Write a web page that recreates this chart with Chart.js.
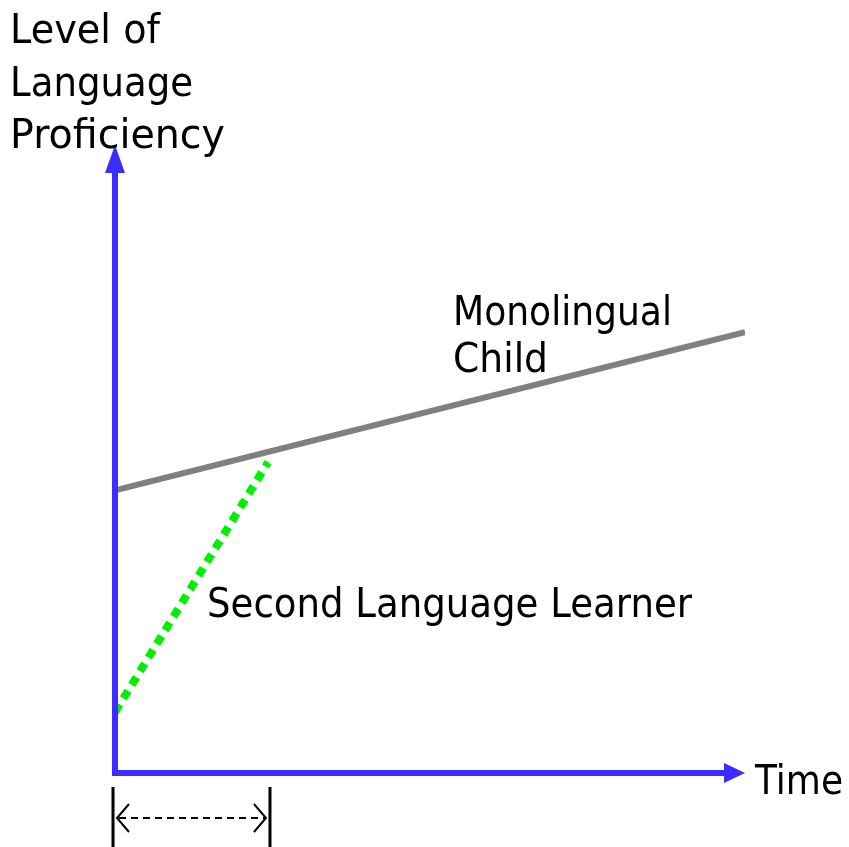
<!DOCTYPE html>
<html>
<head>
<meta charset="utf-8">
<script src="https://cdn.jsdelivr.net/npm/chart.js@4/dist/chart.umd.min.js"></script>
<style>
html,body{margin:0;padding:0;background:#fff;}
#wrap{width:849px;height:847px;position:relative;}
</style>
</head>
<body>
<div id="wrap"><canvas id="c"></canvas></div>
<script>
// Data (abstract units: time 0..100, proficiency 0..100)
const monolingualX = [0, 100];
const monolingualY = [45, 70.2];
const learnerX = [0, 24.3];
const learnerY = [9.7, 49.5];
const periodX = [0, 24.6]; // bracketed time span under the x-axis
const yAxisTitle = ["Level of", "Language", "Proficiency"];
const xAxisTitle = "Time";
const monolingualLabel = ["Monolingual", "Child"];
const learnerLabel = "Second Language Learner";

const FONT = '"DejaVu Sans", "Open Sans", sans-serif';
const BLUE = '#3b2cff';

const toPts = (xs, ys) => xs.map((x, i) => ({x, y: ys[i]}));

const decor = {
  id: 'decor',
  afterDatasetsDraw(chart) {
    const ctx = chart.ctx;
    const xs = chart.scales.x, ys = chart.scales.y;
    const ox = xs.getPixelForValue(0), oy = ys.getPixelForValue(0);
    const xt = xs.getPixelForValue(100), yt = ys.getPixelForValue(100);
    ctx.save();
    // axes
    ctx.strokeStyle = BLUE; ctx.fillStyle = BLUE; ctx.lineWidth = 6; ctx.lineCap = 'butt';
    ctx.beginPath();
    ctx.moveTo(ox, yt + 24); ctx.lineTo(ox, oy + 3);
    ctx.moveTo(ox - 3, oy); ctx.lineTo(xt - 18, oy);
    ctx.stroke();
    ctx.beginPath();
    ctx.moveTo(ox, yt); ctx.lineTo(ox - 10, yt + 28); ctx.lineTo(ox + 10, yt + 28); ctx.closePath(); ctx.fill();
    ctx.beginPath();
    ctx.moveTo(xt, oy); ctx.lineTo(xt - 21, oy - 10); ctx.lineTo(xt - 21, oy + 10); ctx.closePath(); ctx.fill();

    // bracket below x axis
    const bx0 = xs.getPixelForValue(periodX[0]) - 2, bx1 = xs.getPixelForValue(periodX[1]);
    ctx.strokeStyle = '#000'; ctx.lineWidth = 3;
    ctx.beginPath();
    ctx.moveTo(bx0, oy + 14); ctx.lineTo(bx0, 847);
    ctx.moveTo(bx1, oy + 14); ctx.lineTo(bx1, 847);
    ctx.stroke();
    const ay = oy + 45;
    ctx.lineWidth = 2;
    ctx.setLineDash([7, 5]);
    ctx.beginPath(); ctx.moveTo(bx0 + 6, ay); ctx.lineTo(bx1 - 4, ay); ctx.stroke();
    ctx.setLineDash([]);
    ctx.beginPath();
    ctx.moveTo(bx0 + 16, ay - 14); ctx.lineTo(bx0 + 4, ay); ctx.lineTo(bx0 + 16, ay + 14);
    ctx.moveTo(bx1 - 16, ay - 14); ctx.lineTo(bx1 - 4, ay); ctx.lineTo(bx1 - 16, ay + 14);
    ctx.stroke();

    // texts
    ctx.fillStyle = '#000'; ctx.textBaseline = 'alphabetic'; ctx.textAlign = 'left';
    ctx.font = '40px ' + FONT;
    const tb = [43, 96, 148];
    const tw = [150, 183, 215];
    yAxisTitle.forEach((t, i) => ctx.fillText(t, 10, tb[i], tw[i]));
    ctx.fillText(xAxisTitle, 755, 794, 88);
    ctx.fillText(monolingualLabel[0], 453, 325, 219);
    ctx.fillText(monolingualLabel[1], 453, 372, 95);
    ctx.fillText(learnerLabel, 207, 617, 485);
    ctx.restore();
  }
};

new Chart(document.getElementById('c'), {
  type: 'scatter',
  data: {
    datasets: [
      { label: 'Monolingual Child', data: toPts(monolingualX, monolingualY), showLine: true,
        borderColor: '#808080', borderWidth: 6, pointRadius: 0, borderCapStyle: 'butt' },
      { label: 'Second Language Learner', data: toPts(learnerX, learnerY), showLine: true,
        borderColor: '#00f000', borderWidth: 8, pointRadius: 0, borderDash: [9, 7], borderCapStyle: 'butt' }
    ]
  },
  options: {
    responsive: true, maintainAspectRatio: false, animation: false,
    layout: { padding: { left: 115, right: 104, top: 145, bottom: 74 } },
    plugins: { legend: { display: false }, tooltip: { enabled: false } },
    scales: {
      x: { type: 'linear', min: 0, max: 100, display: false },
      y: { type: 'linear', min: 0, max: 100, display: false }
    }
  },
  plugins: [decor]
});
</script>
</body>
</html>
